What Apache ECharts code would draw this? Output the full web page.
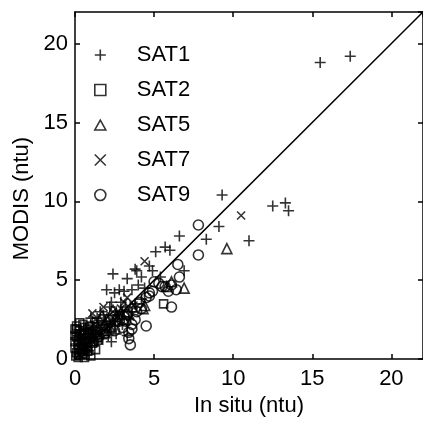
<!DOCTYPE html>
<html><head><meta charset="utf-8">
<script src="https://cdn.jsdelivr.net/npm/echarts@6/dist/echarts.min.js"></script>
<style>html,body{margin:0;padding:0;background:#fff}#c{width:423px;height:422px}</style>
</head><body><div id="c"></div>
<script>
const seriesNames = ['SAT1', 'SAT2', 'SAT5', 'SAT7', 'SAT9'];
const xTicks = [0, 5, 10, 15, 20];
const yTicks = [0, 5, 10, 15, 20];
const oneToOne = [[0, 0], [22, 22]];

const sat1 = [[15.5,18.8],[17.4,19.2],[12.5,9.7],[13.3,9.9],[13.5,9.4],[11.0,7.5],[9.3,10.4],[9.1,8.4],[8.3,7.6],[6.6,7.8],
  [5.1,6.8],[5.7,7.1],[6.0,6.9],[6.9,5.6],[3.9,5.6],[4.7,5.9],[4.9,5.6],[2.4,5.4],[3.3,5.1],[3.8,5.7],[4.0,4.7],[2.0,4.4],
  [2.5,4.2],[2.8,4.4],[3.1,4.3],[3.6,4.4],[4.4,4.5],[4.2,5.2],[5.4,5.2],[2.3,1.1],[2.9,3.6],[2.2,3.3],[2.6,3.0],[1.8,2.8],
  [1.5,2.3],[1.2,2.0],[0.8,1.6],[0.5,1.2],[0.3,0.9],[1.0,1.4],[2.0,2.0],[2.8,2.5],[3.2,3.3],[3.6,3.0],[3.0,2.2],[1.6,1.8],
  [0.6,0.6],[0.2,1.5],[4.2,3.8],[1.4,1.1],[2.6,1.6],[3.3,1.5],[0.9,0.3],[0.4,1.8],[1.7,1.3],[2.4,2.4],[3.8,3.5],
  [0.7,1.9],[1.1,2.3],[1.3,1.6],[0.4,0.6],[1.9,2.4],[2.2,2.2],[2.7,2.8],[1.4,2.6],[0.2,1.2],[0.9,1.1],[2.1,1.5],[2.5,2.1],
  [3.4,2.6],[1.0,2.6],[3.0,3.0],[2.3,3.6],[1.6,3.0]];
const sat2 = [[0.05,0.2],[0.6,0.1],[0.0,0.7],[0.0,1.1],[0.3,0.4],[0.2,0.9],[0.5,0.7],[0.8,0.5],[0.1,1.4],[0.4,1.3],
  [0.7,1.0],[1.0,0.8],[0.3,1.8],[0.6,1.6],[0.9,1.3],[1.2,1.1],[0.1,1.9],[0.8,1.9],[1.1,1.6],[1.4,1.4],[1.3,0.6],[0.5,0.3],
  [1.6,1.9],[1.9,1.6],[2.3,2.0],[5.6,3.5],[0.2,0.1],[1.0,0.2],[0.1,2.1],[0.5,2.2],
  [0.2,0.6],[0.4,1.0],[0.7,1.3],[0.3,1.6],[0.9,1.7],[0.6,2.0],[1.2,1.8],[0.0,1.5],[0.1,0.4],[0.8,0.8],[1.1,1.0],[0.4,0.5],
  [1.5,1.2],[0.2,1.2],[0.7,0.7],[1.3,1.5],[0.0,1.9],[0.3,2.3],[0.9,2.1]];
const sat5 = [[9.6,7.0],[6.9,4.5],[4.3,3.2],[4.4,3.4],[6.1,4.9],[1.7,2.75],[2.4,3.1],[2.9,2.9],[3.6,3.3],[1.9,2.2],[1.0,1.5],
  [5.8,4.6],[0.5,1.0],[3.1,2.5],[2.2,2.0],[1.4,1.9],[2.6,2.7],[0.8,1.2],[3.3,3.0],[2.0,2.5]];
const sat7 = [[10.5,9.1],[4.4,6.2],[1.8,3.3],[2.2,2.8],[1.3,2.5],[0.9,1.9],[2.6,2.4],[3.1,3.6],[0.4,1.1],[1.6,2.1],
  [3.5,2.7],[2.0,1.6],[0.7,0.8],[2.9,3.2],[1.1,2.9],[3.3,3.9],[0.5,1.5],[1.0,1.2],[1.4,1.7],[2.3,2.5],[1.8,2.4],[2.8,2.9],
  [0.3,0.7],[1.2,2.2],[2.4,3.0],[3.7,3.4]];
const sat9 = [[7.8,8.5],[7.8,6.6],[6.5,6.0],[6.6,5.2],[6.1,4.7],[5.7,4.6],[5.9,4.3],[5.3,4.8],[6.1,3.3],[4.5,3.9],[4.7,4.2],
  [4.9,4.3],[4.5,2.1],[3.6,1.9],[3.4,1.3],[3.5,0.9],[3.4,1.7],[5.0,4.9],[4.1,3.6],[3.8,2.5],[3.0,2.0],[2.5,1.8],[6.4,4.4],
  [5.5,4.6],[3.3,2.8],[0.5,0.4],[4.7,4.0],[3.9,3.0],[2.8,2.4],[2.0,1.8],[3.6,2.2],[1.5,1.4],[4.2,3.2],[3.2,2.4]];

const FONT = "'Liberation Sans', Arial, Helvetica, sans-serif";
const SYM = {
  plus: 'path://M0,5H10M5,0V10',
  square: 'path://M0,0H10V10H0Z',
  triangle: 'path://M5,0L10,9L0,9Z',
  cross: 'path://M0,0L10,10M10,0L0,10',
  circle: 'path://M10,5A5,5 0 1 1 0,5A5,5 0 1 1 10,5Z'
};
const symbolFor = [SYM.plus, SYM.square, SYM.triangle, SYM.cross, SYM.circle];
const sizeFor = [11, 8, 10, 8, 10];
const dataFor = [sat1, sat2, sat5, sat7, sat9];
const MW = 1.6;

const axisBase = {
  min: 0, max: 22, interval: 5,
  axisLine: { show: true, onZero: false, lineStyle: { color: '#000', width: 1.5 } },
  axisTick: { show: true, inside: true, length: 5, lineStyle: { color: '#000', width: 1.5 } },
  splitLine: { show: false }
};

const series = seriesNames.map((n, i) => ({
  name: n, type: 'scatter', data: dataFor[i],
  symbol: symbolFor[i], symbolSize: sizeFor[i],
  itemStyle: { color: 'transparent', borderColor: '#000', borderWidth: MW },
  emphasis: { disabled: true }
}));
series.push({
  type: 'line', data: oneToOne, symbol: 'none', silent: true,
  lineStyle: { color: '#000', width: 1.5 }
});

const chart = echarts.init(document.getElementById('c'));
chart.setOption({
  animation: false,
  backgroundColor: '#fff',
  grid: { left: 75, right: -4, top: 12, bottom: 58 },
  xAxis: [
    Object.assign({}, axisBase, {
      type: 'value', position: 'bottom', name: 'In situ (ntu)', nameLocation: 'middle', nameGap: 30,
      nameTextStyle: { fontFamily: FONT, fontSize: 22, color: '#000' },
      axisLabel: { margin: 9, fontFamily: FONT, fontSize: 22, color: '#000', formatter: v => (xTicks.indexOf(v) >= 0 ? String(v) : ''), showMaxLabel: false }
    }),
    Object.assign({}, axisBase, { type: 'value', position: 'top', axisLabel: { show: false } })
  ],
  yAxis: [
    Object.assign({}, axisBase, {
      type: 'value', position: 'left', name: 'MODIS (ntu)', nameLocation: 'middle', nameGap: 30,
      nameTextStyle: { fontFamily: FONT, fontSize: 22, color: '#000', padding: [0, 26, 0, 0] },
      axisLabel: { margin: 7, fontFamily: FONT, fontSize: 22, color: '#000', formatter: v => (yTicks.indexOf(v) >= 0 ? String(v) : ''), showMaxLabel: false }
    }),
    Object.assign({}, axisBase, { type: 'value', position: 'right', axisLabel: { show: false } })
  ],
  legend: {
    data: seriesNames, orient: 'vertical', left: 89, top: 39,
    itemWidth: 11, itemHeight: 11, itemGap: 13,
    itemStyle: { borderWidth: MW, borderColor: '#000', color: 'transparent' },
    textStyle: { fontFamily: FONT, fontSize: 22, color: '#000', lineHeight: 22, padding: [0, 0, 0, 26] },
    selectedMode: false
  },
  series: series
});
</script></body></html>
